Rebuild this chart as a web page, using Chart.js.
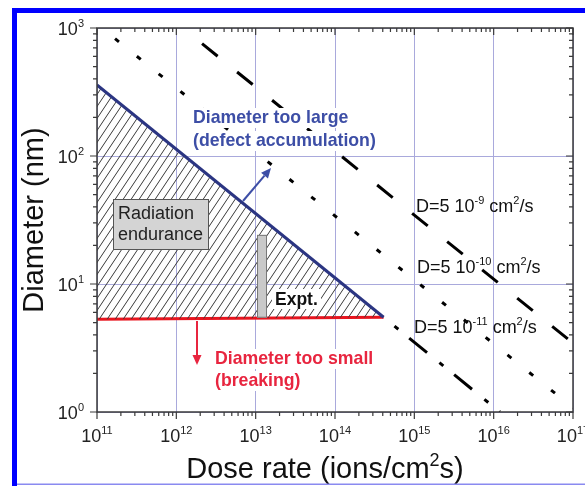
<!DOCTYPE html>
<html>
<head>
<meta charset="utf-8">
<script src="https://cdn.jsdelivr.net/npm/chart.js@4.4.1/dist/chart.umd.min.js"></script>
<style>
  html, body { margin: 0; padding: 0; background: #fff; overflow: hidden; }
  #wrap { position: relative; width: 585px; height: 486px; }
</style>
</head>
<body>
<div id="wrap"><canvas id="c"></canvas></div>
<script>
// values: dose rate (ions/cm2 s) vs diameter (nm)
const X_TICKS = [1e11, 1e12, 1e13, 1e14, 1e15, 1e16, 1e17];
const Y_TICKS = [1, 10, 100, 1000];

// upper bound (too large) and lower bound (too small) of the endurance window
const UPPER_DOSE = [1e11, 4.1e14];
const UPPER_DIAM = [359, 5.5];
const LOWER_DOSE = [1e11, 4.1e14];
const LOWER_DIAM = [5.3, 5.5];

// diffusion lines
const D9_DOSE = [1.2e12, 1e17];
const D9_DIAM = [1000, 3.45];
const D10_DOSE = [1.15e11, 1e17];
const D10_DIAM = [1000, 1.08];
const D11_DOSE = [4.1e14, 1.2e16];
const D11_DIAM = [5.5, 1.0];

// experimental range
const EXPT_DOSE = [1.04e13, 1.39e13];
const EXPT_DIAM = [5.45, 24.2];

const FONT = '"Liberation Sans", Arial, Helvetica, sans-serif';
const BLUE_TXT = '#3d4ea6';
const RED_TXT = '#e8253f';

const pts = (xs, ys) => xs.map((x, i) => ({ x, y: ys[i] }));

function hatch() {
    const w = 8, h = 12;
    const c = document.createElement('canvas');
    c.width = w; c.height = h;
    const g = c.getContext('2d');
    g.strokeStyle = '#3a3a3a';
    g.lineWidth = 1;
    [-w, 0, w].forEach(x0 => {
        g.beginPath();
        g.moveTo(x0, h);
        g.lineTo(x0 + w, 0);
        g.stroke();
    });
    return g.createPattern(c, 'repeat');
}

// draws text with superscript parts: [[text, isSup], ...]
function supText(ctx, parts, x, y, size, align, weight) {
    const wt = weight || '';
    const sub = Math.round(size * 0.62);
    const fontOf = s => `${wt} ${s ? sub : size}px ${FONT}`;
    let w = 0;
    parts.forEach(([t, s]) => { ctx.font = fontOf(s); w += ctx.measureText(t).width; });
    let cx = align === 'center' ? x - w / 2 : align === 'right' ? x - w : x;
    ctx.textAlign = 'left';
    ctx.textBaseline = 'alphabetic';
    parts.forEach(([t, s]) => {
        ctx.font = fontOf(s);
        ctx.fillText(t, cx, s ? y - size * 0.42 : y);
        cx += ctx.measureText(t).width;
    });
    return w;
}

function boxedText(ctx, text, x, y, color) {
    ctx.font = `bold 17.7px ${FONT}`;
    const w = ctx.measureText(text).width;
    ctx.fillStyle = '#fff';
    ctx.fillRect(x - 2, y - 15, w + 4, 20);
    ctx.fillStyle = color;
    ctx.textAlign = 'left';
    ctx.textBaseline = 'alphabetic';
    ctx.fillText(text, x, y);
}

function arrow(ctx, x0, y0, x1, y1, color) {
    const a = Math.atan2(y1 - y0, x1 - x0);
    const len = 10, half = 4.5;
    ctx.strokeStyle = color;
    ctx.fillStyle = color;
    ctx.lineWidth = 2;
    ctx.beginPath();
    ctx.moveTo(x0, y0);
    ctx.lineTo(x1 - Math.cos(a) * len, y1 - Math.sin(a) * len);
    ctx.stroke();
    ctx.beginPath();
    ctx.moveTo(x1, y1);
    ctx.lineTo(x1 - Math.cos(a) * len - Math.sin(a) * half, y1 - Math.sin(a) * len + Math.cos(a) * half);
    ctx.lineTo(x1 - Math.cos(a) * len + Math.sin(a) * half, y1 - Math.sin(a) * len - Math.cos(a) * half);
    ctx.closePath();
    ctx.fill();
}

const decor = {
    id: 'decor',
    afterDatasetsDraw(chart) {
        const { ctx, scales: { x, y } } = chart;
        ctx.save();

        // experimental bar
        const ex0 = x.getPixelForValue(EXPT_DOSE[0]), ex1 = x.getPixelForValue(EXPT_DOSE[1]);
        const ey0 = y.getPixelForValue(EXPT_DIAM[1]), ey1 = y.getPixelForValue(EXPT_DIAM[0]);
        ctx.fillStyle = '#c9c9c9';
        ctx.fillRect(ex0, ey0, ex1 - ex0, ey1 - ey0);
        ctx.strokeStyle = '#777';
        ctx.lineWidth = 1;
        ctx.strokeRect(ex0 + 0.5, ey0 + 0.5, ex1 - ex0 - 1, ey1 - ey0 - 1);

        // Expt. label
        ctx.font = `bold 17.5px ${FONT}`;
        ctx.fillStyle = '#fff';
        ctx.fillRect(272, 289, 49, 20);
        ctx.fillStyle = '#111';
        ctx.fillText('Expt.', 275, 305);

        // Radiation endurance box
        ctx.fillStyle = '#d4d4d4';
        ctx.fillRect(113, 199, 95, 50);
        ctx.strokeStyle = '#555';
        ctx.strokeRect(113.5, 199.5, 95, 50);
        ctx.fillStyle = '#222';
        ctx.font = `18px ${FONT}`;
        ctx.fillText('Radiation', 118, 219);
        ctx.fillText('endurance', 118, 240);

        boxedText(ctx, 'Diameter too large', 193, 123, BLUE_TXT);
        boxedText(ctx, '(defect accumulation)', 193, 146, BLUE_TXT);
        boxedText(ctx, 'Diameter too small', 215, 364, RED_TXT);
        boxedText(ctx, '(breaking)', 215, 386, RED_TXT);

        ctx.fillStyle = '#111';
        supText(ctx, [['D=5 10', 0], ['-9', 1], [' cm', 0], ['2', 1], ['/s', 0]], 416, 212, 18, 'left');
        supText(ctx, [['D=5 10', 0], ['-10', 1], [' cm', 0], ['2', 1], ['/s', 0]], 417, 273, 18, 'left');
        supText(ctx, [['D=5 10', 0], ['-11', 1], [' cm', 0], ['2', 1], ['/s', 0]], 414, 333, 18, 'left');

        arrow(ctx, 243, 201, 271, 168, BLUE_TXT);
        arrow(ctx, 197, 321, 197, 365, RED_TXT);
        ctx.restore();
    },
    afterDraw(chart) {
        const { ctx, chartArea: a, scales: { x, y } } = chart;
        ctx.save();
        ctx.strokeStyle = '#3a3a3a';
        ctx.lineWidth = 1.5;
        ctx.strokeRect(a.left, a.top, a.right - a.left, a.bottom - a.top);

        // tick marks: out on bottom/left, mirrored in on top/right
        ctx.lineWidth = 1.2;
        ctx.beginPath();
        X_TICKS.forEach((v, i) => {
            const px = x.getPixelForValue(v);
            ctx.moveTo(px, a.bottom); ctx.lineTo(px, a.bottom + 7);
            ctx.moveTo(px, a.top); ctx.lineTo(px, a.top + 7);
            if (i < X_TICKS.length - 1) {
                for (let k = 2; k < 10; k++) {
                    const mx = x.getPixelForValue(v * k);
                    ctx.moveTo(mx, a.bottom); ctx.lineTo(mx, a.bottom + 4);
                    ctx.moveTo(mx, a.top); ctx.lineTo(mx, a.top + 4);
                }
            }
        });
        Y_TICKS.forEach((v, i) => {
            const py = y.getPixelForValue(v);
            ctx.moveTo(a.left, py); ctx.lineTo(a.left - 7, py);
            ctx.moveTo(a.right, py); ctx.lineTo(a.right - 7, py);
            if (i < Y_TICKS.length - 1) {
                for (let k = 2; k < 10; k++) {
                    const my = y.getPixelForValue(v * k);
                    ctx.moveTo(a.left, my); ctx.lineTo(a.left - 4, my);
                    ctx.moveTo(a.right, my); ctx.lineTo(a.right - 4, my);
                }
            }
        });
        ctx.stroke();

        // tick labels
        ctx.fillStyle = '#222';
        X_TICKS.forEach(v => {
            const e = String(Math.round(Math.log10(v)));
            supText(ctx, [['10', 0], [e, 1]], x.getPixelForValue(v), a.bottom + 30, 18, 'center');
        });
        Y_TICKS.forEach(v => {
            const e = String(Math.round(Math.log10(v)));
            supText(ctx, [['10', 0], [e, 1]], a.left - 13, y.getPixelForValue(v) + 7, 18, 'right');
        });

        // axis titles
        ctx.fillStyle = '#111';
        supText(ctx, [['Dose rate (ions/cm', 0], ['2', 1], ['s)', 0]], 325, 478, 29, 'center');
        ctx.save();
        ctx.translate(43, 220);
        ctx.rotate(-Math.PI / 2);
        ctx.font = `29px ${FONT}`;
        ctx.textAlign = 'center';
        ctx.fillText('Diameter (nm)', 0, 0);
        ctx.restore();

        // page frame
        ctx.fillStyle = '#0000ff';
        ctx.fillRect(12, 8, 585, 5);
        ctx.fillRect(12, 8, 5, 486);
        ctx.fillStyle = '#8a8af0';
        ctx.fillRect(17, 483.5, 585, 1.5);
        ctx.restore();
    }
};

const decadesOnly = s => {
    s.ticks = s.ticks.filter(t => Math.abs(Math.log10(t.value) - Math.round(Math.log10(t.value))) < 1e-6);
};

new Chart(document.getElementById('c'), {
    type: 'line',
    data: {
        datasets: [
            {
                label: 'too large',
                data: pts(UPPER_DOSE, UPPER_DIAM),
                borderColor: '#2b3582',
                borderWidth: 3,
                backgroundColor: hatch(),
                fill: '+1',
                pointRadius: 0
            },
            {
                label: 'too small',
                data: pts(LOWER_DOSE, LOWER_DIAM),
                borderColor: '#e8141e',
                borderWidth: 3,
                fill: false,
                pointRadius: 0
            },
            {
                label: 'D=5e-9',
                data: pts(D9_DOSE, D9_DIAM),
                borderColor: '#000',
                borderWidth: 3,
                borderDash: [20, 25],
                borderDashOffset: 20,
                fill: false,
                pointRadius: 0
            },
            {
                label: 'D=5e-10',
                data: pts(D10_DOSE, D10_DIAM),
                borderColor: '#000',
                borderWidth: 3,
                borderDash: [5, 23],
                borderDashOffset: 11,
                fill: false,
                pointRadius: 0
            },
            {
                label: 'D=5e-11',
                data: pts(D11_DOSE, D11_DIAM),
                borderColor: '#000',
                borderWidth: 3,
                borderDash: [5, 14, 23, 16],
                borderDashOffset: 44,
                fill: false,
                pointRadius: 0
            }
        ]
    },
    options: {
        responsive: true,
        maintainAspectRatio: false,
        animation: false,
        layout: { padding: { left: 97, right: 12, top: 28, bottom: 74 } },
        scales: {
            x: {
                type: 'logarithmic',
                min: 1e11, max: 1e17,
                afterBuildTicks: decadesOnly,
                afterFit: s => { s.height = 0; },
                ticks: { display: false },
                grid: { color: '#a9a9dc', lineWidth: 1, drawTicks: false },
                border: { display: false }
            },
            y: {
                type: 'logarithmic',
                min: 1, max: 1000,
                afterBuildTicks: decadesOnly,
                afterFit: s => { s.width = 0; },
                ticks: { display: false },
                grid: { color: '#a9a9dc', lineWidth: 1, drawTicks: false },
                border: { display: false }
            }
        },
        plugins: {
            legend: { display: false },
            tooltip: { enabled: false }
        }
    },
    plugins: [decor]
});
</script>
</body>
</html>
